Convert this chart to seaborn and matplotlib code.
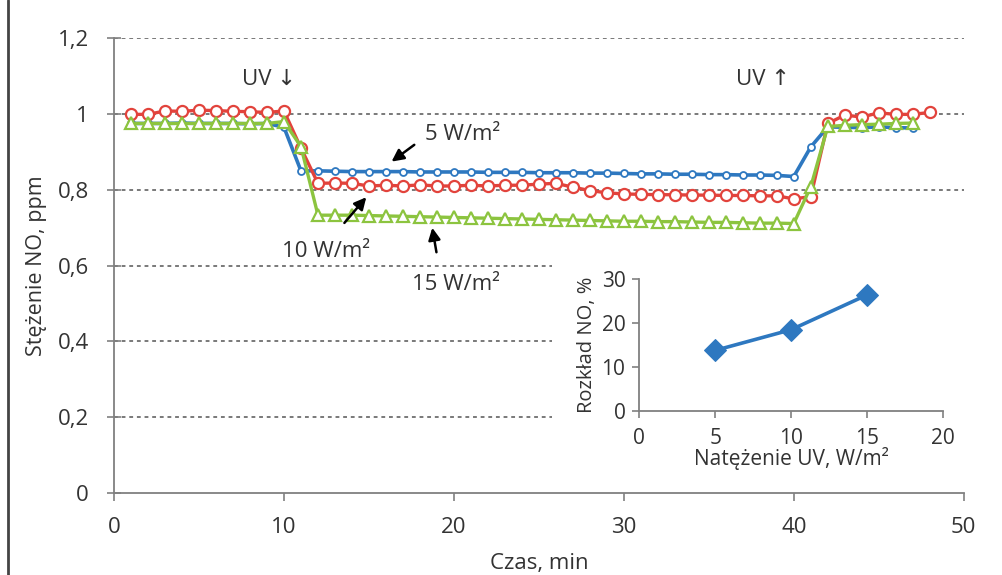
import matplotlib
matplotlib.use("Agg")
import matplotlib.pyplot as plt
import seaborn as sns
from matplotlib.lines import Line2D
from matplotlib.patches import Rectangle

# main chart: NO concentration vs time for three UV intensities
time_blue = list(range(1, 48))
no_5w = [0.975, 0.975, 0.975, 0.976, 0.975, 0.975, 0.975, 0.974, 0.975, 0.965,
         0.850, 0.850, 0.849, 0.848, 0.848, 0.848, 0.848, 0.847, 0.847, 0.847,
         0.847, 0.846, 0.846, 0.846, 0.845, 0.845, 0.845, 0.844, 0.844, 0.843,
         0.842, 0.842, 0.841, 0.841, 0.840, 0.840, 0.839, 0.839, 0.838, 0.835,
         0.913, 0.966, 0.965, 0.964, 0.966, 0.964, 0.963]

time_red = list(range(1, 49))
no_10w = [0.999, 0.999, 1.008, 1.007, 1.010, 1.009, 1.007, 1.006, 1.004, 1.008,
          0.910, 0.817, 0.818, 0.817, 0.810, 0.812, 0.810, 0.813, 0.810, 0.810,
          0.812, 0.810, 0.812, 0.812, 0.815, 0.817, 0.807, 0.798, 0.792, 0.789,
          0.788, 0.787, 0.787, 0.786, 0.786, 0.785, 0.785, 0.784, 0.784, 0.776,
          0.782, 0.975, 0.997, 0.992, 1.003, 0.999, 0.999, 1.004]

time_green = list(range(1, 48))
no_15w = [0.975, 0.975, 0.975, 0.975, 0.975, 0.975, 0.975, 0.975, 0.975, 0.980,
          0.914, 0.733, 0.733, 0.733, 0.732, 0.731, 0.730, 0.729, 0.728, 0.727,
          0.726, 0.725, 0.724, 0.723, 0.722, 0.721, 0.720, 0.719, 0.718, 0.717,
          0.717, 0.716, 0.716, 0.715, 0.714, 0.714, 0.713, 0.712, 0.712, 0.711,
          0.808, 0.967, 0.970, 0.972, 0.973, 0.975, 0.976]

# inset: NO decomposition vs UV intensity
uv_intensity = [5, 10, 15]
no_decomp = [13.8, 18.5, 26.4]

sns.set_theme(style="ticks")
plt.rcParams['font.family'] = ['Open Sans', 'DejaVu Sans']

blue = "#2E78C0"
red = "#E2433C"
green = "#8CC43F"
grey = "#808080"
txt = "#333333"
fs = 16

fig = plt.figure(figsize=(10.02, 5.75), dpi=100)
ax = fig.add_axes([0.1138, 0.1426, 0.848, 0.791])

sns.lineplot(x=time_blue, y=no_5w, ax=ax, color=blue, lw=2.6, marker="o",
             markersize=5, markerfacecolor="white", markeredgecolor=blue, markeredgewidth=1.3)
sns.lineplot(x=time_red, y=no_10w, ax=ax, color=red, lw=2.4, marker="o",
             markersize=8, markerfacecolor="white", markeredgecolor=red, markeredgewidth=1.6)
sns.lineplot(x=time_green, y=no_15w, ax=ax, color=green, lw=2.4, marker="^",
             markersize=8, markerfacecolor="white", markeredgecolor=green, markeredgewidth=1.6)

ax.set_xlim(0, 50)
ax.set_ylim(0, 1.2)
ax.set_xticks([0, 10, 20, 30, 40, 50])
ax.set_yticks([0, 0.2, 0.4, 0.6, 0.8, 1.0, 1.2])
ax.set_yticklabels(["0", "0,2", "0,4", "0,6", "0,8", "1", "1,2"])
for yv in [0.2, 0.4, 0.6, 0.8, 1.0, 1.2]:
    ax.axhline(yv, color="#555555", lw=1.1, ls=(0, (2.5, 2.5)), zorder=0)

# white backing behind the inset hides the gridlines there
ax.add_patch(Rectangle((0.551, 0.165), 0.44, 0.387, transform=fig.transFigure,
                       facecolor="white", edgecolor="none", zorder=5, clip_on=False))

for s in ["top", "right"]:
    ax.spines[s].set_visible(False)
for s in ["left", "bottom"]:
    ax.spines[s].set_color(grey)
    ax.spines[s].set_linewidth(1.3)
ax.tick_params(axis="y", direction="inout", length=10, width=1.2, color=grey,
               labelsize=fs, labelcolor=txt, pad=13)
ax.tick_params(axis="x", direction="out", length=6, width=1.2, color=grey,
               labelsize=fs, labelcolor=txt, pad=11)
ax.set_xlabel("Czas, min", fontsize=fs, color=txt, labelpad=11)
ax.set_ylabel("Stężenie NO, ppm", fontsize=15.5, color=txt, labelpad=8)

# annotations
ax.text(9.1, 1.09, "UV ↓", fontsize=fs, color=txt, ha="center", va="center")
ax.text(38.2, 1.09, "UV ↑", fontsize=fs, color=txt, ha="center", va="center")
akw = dict(arrowstyle="-|>", color="black", lw=1.8, mutation_scale=18)
ax.annotate("", xy=(16.2, 0.870), xytext=(17.8, 0.923), arrowprops=akw)
ax.text(18.3, 0.945, "5 W/m²", fontsize=fs, color=txt, ha="left", va="center")
ax.annotate("", xy=(14.95, 0.786), xytext=(13.45, 0.707), arrowprops=akw)
ax.text(12.5, 0.636, "10 W/m²", fontsize=fs, color=txt, ha="center", va="center")
ax.annotate("", xy=(18.7, 0.707), xytext=(19.0, 0.628), arrowprops=akw)
ax.text(20.1, 0.549, "15 W/m²", fontsize=fs, color=txt, ha="center", va="center")

# inset
ins = fig.add_axes([0.638, 0.285, 0.303, 0.2296])
sns.lineplot(x=uv_intensity, y=no_decomp, ax=ins, color=blue, lw=2.6,
             marker="D", markersize=11, markeredgecolor=blue)
ins.set_xlim(0, 20)
ins.set_ylim(0, 30)
ins.set_xticks([0, 5, 10, 15, 20])
ins.set_yticks([0, 10, 20, 30])
for s in ["top", "right"]:
    ins.spines[s].set_visible(False)
for s in ["left", "bottom"]:
    ins.spines[s].set_color(grey)
    ins.spines[s].set_linewidth(1.3)
ins.patch.set_alpha(0)
ins.tick_params(direction="out", length=5, width=1.2, color=grey,
                labelsize=15, labelcolor=txt)
ins.tick_params(axis="x", pad=7)
ins.tick_params(axis="y", pad=5)
ins.set_xlabel("Natężenie UV, W/m²", fontsize=15, color=txt, labelpad=-1)
ins.set_ylabel("Rozkład NO, %", fontsize=14.5, color=txt, labelpad=3)

# left border line of the source figure
fig.add_artist(Line2D([0.008, 0.008], [0.0, 1.0], transform=fig.transFigure,
                      color="#444444", lw=2))

fig.savefig("out.png", dpi=100)
